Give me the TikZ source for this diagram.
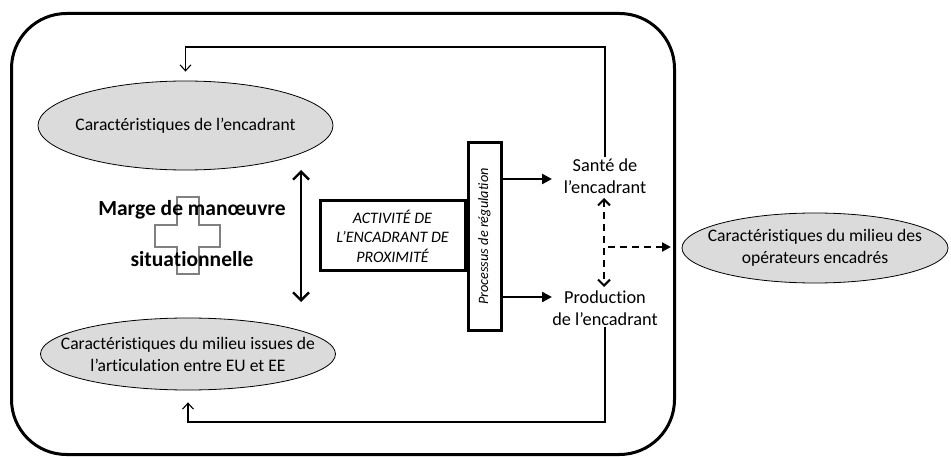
\documentclass[tikz,border=0pt]{standalone}
\usepackage{fontspec}
\setmainfont[Ligatures=NoCommon]{Carlito}
\usetikzlibrary{shapes.geometric,arrows.meta}
\begin{document}
\begin{tikzpicture}[x=1pt,y=-1pt,
  ell/.style={ellipse, draw, fill=gray!28, line width=0.8pt, inner sep=0pt},
  etxt/.style={align=center, font=\fontsize{17.6}{22}\selectfont, inner sep=0pt},
  lbl/.style={align=center, font=\fontsize{18.3}{22}\selectfont, inner sep=1pt},
  fb/.style={line width=1.1pt, -{Straight Barb[length=6pt,width=11pt]}},
  thk/.style={line width=2.4pt},
  bigbold/.style={font=\fontsize{21.5}{24}\selectfont\bfseries, inner sep=0pt},
  ]
\useasboundingbox (0,0) rectangle (951,457);
% frame
\node[draw, line width=3pt, rounded corners=55pt, minimum width=663pt, minimum height=441pt, inner sep=0pt] (frame) at (343,234) {};
% ellipses
\node[ell, minimum width=295pt, minimum height=89pt, label={[etxt]center:Caractéristiques de l’encadrant}] (e1) at (185.5,125.5) {};
\node[ell, minimum width=295pt, minimum height=72pt, label={[etxt]center:{Caractéristiques du milieu issues de\\l’articulation entre EU et EE}}] (e2) at (188,354) {};
\node[ell, minimum width=266pt, minimum height=70pt, label={[etxt]center:{Caractéristiques du milieu des\\opérateurs encadrés}}] (e3) at (815,248) {};
% cross
\draw[gray, line width=1.3pt] (177,197) -- (199,197) -- (199,225) -- (220,225) -- (220,247) -- (199,247) -- (199,274) -- (177,274) -- (177,247) -- (155,247) -- (155,225) -- (177,225) -- cycle;
\node[bigbold] (marge) at (192,210) {Marge de manœuvre};
\node[bigbold] (situ) at (192,259) {situationnelle};
% double arrow
\coordinate (da1) at (301,170);
\coordinate (da2) at (301,302);
\draw[thk, {Straight Barb[length=8pt,width=16pt,line width=2.4pt]}-{Straight Barb[length=8pt,width=16pt,line width=2.4pt]}] (da1) -- (da2);
% activity box
\node[draw, line width=3pt, minimum width=145pt, minimum height=70pt, inner sep=0pt, align=center, font=\fontsize{16}{19.5}\selectfont\itshape] (act) at (392.5,236) {ACTIVITÉ DE\\L’ENCADRANT DE\\PROXIMITÉ};
% processus box
\node[draw, line width=3pt, minimum width=33pt, minimum height=187pt, inner sep=0pt] (proc) at (484.5,236.5) {};
\node[rotate=90, font=\fontsize{14.3}{16}\selectfont\itshape, inner sep=0pt] (proctxt) at (proc.center) {Processus de régulation};
% outputs
\node[lbl] (sante) at (605,176) {Santé de\\l’encadrant};
\node[lbl] (prod) at (605,308) {Production\\de l’encadrant};
\draw[thk, -{Triangle[length=10pt,width=10pt]}] (proc.east |- 0,179) -- (552,179);
\draw[thk, -{Triangle[length=10pt,width=10pt]}] (proc.east |- 0,297) -- (552,297);
% dashed
\coordinate (dv1) at (604,198);
\coordinate (dv2) at (604,287);
\coordinate (dh1) at (608,247);
\coordinate (dh2) at (671,247);
\draw[line width=2pt, dash pattern=on 7pt off 5pt, {Straight Barb[length=6pt,width=12pt]}-{Straight Barb[length=6pt,width=12pt]}] (dv1) -- (dv2);
\draw[line width=2pt, dash pattern=on 7pt off 5pt, -{Triangle[length=9pt,width=9pt]}] (dh1) -- (dh2);
% feedback loops
\coordinate (topy) at (0,47);
\coordinate (boty) at (0,422);
\draw[fb] (sante.north) -- (sante.north |- topy) -- (e1.north |- topy) -- ([yshift=9pt]e1.north);
\draw[fb] (prod.south) -- (prod.south |- boty) -- (e2.south |- boty) -- ([yshift=-12pt]e2.south);
\end{tikzpicture}
\end{document}
